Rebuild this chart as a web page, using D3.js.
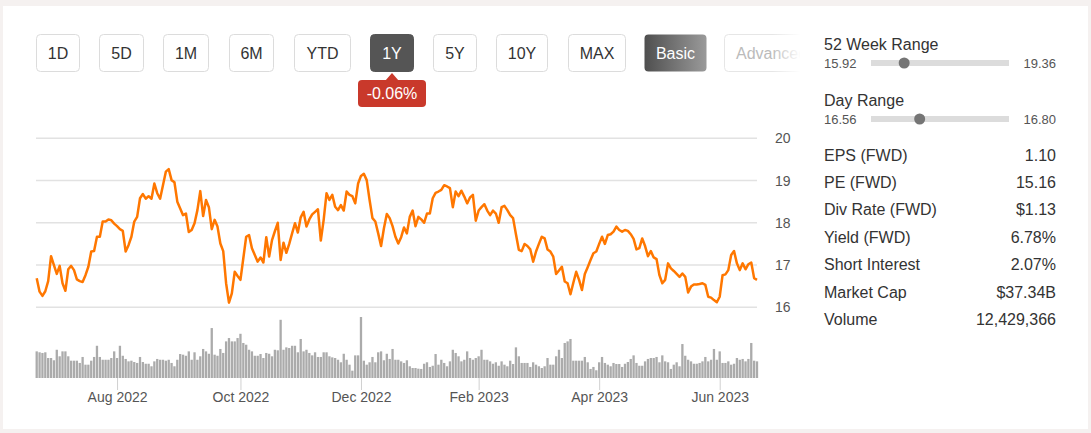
<!DOCTYPE html>
<html><head><meta charset="utf-8">
<script src="https://cdn.jsdelivr.net/npm/d3@7"></script>
<style>
html,body{margin:0;padding:0;background:#f5f1f0;}
svg{display:block;font-family:"Liberation Sans",Arial,sans-serif;}
</style></head>
<body>
<svg id="c" width="1091" height="433"></svg>
<script>
// ---------- data ----------
const rangeButtons = ["1D","5D","1M","6M","YTD","1Y","5Y","10Y","MAX"];
const activeRange = "1Y";
const modeButtons = ["Basic","Advanced"];
const changeLabel = "-0.06%";

const priceTicks = [16,17,18,19,20];
const monthTicks = ["Aug 2022","Oct 2022","Dec 2022","Feb 2023","Apr 2023","Jun 2023"];
const monthTickDay = [28,71,113,154,196,238]; // trading-session index of first session in month

// daily close, one per trading session (Jun 2022 - Jun 2023)
const price = [
16.69,16.37,16.27,16.38,16.62,17.21,17.00,16.79,16.98,16.57,
16.39,16.90,16.98,16.88,16.66,16.62,16.60,16.76,16.96,17.32,
17.33,17.67,17.67,18.03,18.03,18.08,18.06,17.98,17.92,17.85,
17.81,17.32,17.47,17.67,18.03,18.14,18.58,18.68,18.57,18.63,
18.57,18.93,18.70,18.57,18.89,19.21,19.27,19.01,18.96,18.50,
18.34,18.18,18.22,17.78,17.83,17.99,18.30,18.75,18.16,18.54,
18.37,17.85,18.07,17.91,17.51,17.33,16.57,16.11,16.33,16.84,
16.74,16.65,17.16,17.67,17.71,17.40,17.24,17.08,17.18,17.06,
17.66,17.20,17.59,17.80,18.00,17.12,17.53,17.29,17.50,17.75,
17.99,17.77,18.13,18.26,17.91,18.08,18.20,18.26,18.32,17.58,
18.07,18.70,18.54,18.66,18.38,18.30,18.42,18.29,18.74,18.66,
18.63,18.46,18.93,19.11,19.16,19.01,18.54,18.11,18.03,17.75,
17.45,17.87,18.21,18.11,17.92,17.67,17.51,17.66,17.89,17.75,
18.14,18.29,17.92,18.14,18.08,18.00,18.22,18.22,18.58,18.71,
18.74,18.78,18.89,18.86,18.82,18.37,18.74,18.63,18.76,18.62,
18.46,18.60,18.66,18.05,18.29,18.37,18.44,18.29,18.18,18.29,
18.22,18.00,18.37,18.40,18.30,18.18,18.11,17.73,17.36,17.33,
17.50,17.45,17.37,17.08,17.32,17.50,17.67,17.63,17.37,17.32,
17.20,16.79,16.87,16.96,16.61,16.57,16.31,16.58,16.84,16.65,
16.41,16.79,16.95,17.12,17.28,17.32,17.50,17.67,17.50,17.71,
17.73,17.79,17.91,17.83,17.79,17.83,17.81,17.73,17.62,17.37,
17.40,17.63,17.45,17.21,17.33,17.18,17.14,16.76,16.57,16.65,
17.04,16.92,16.86,16.79,16.72,16.80,16.72,16.35,16.49,16.54,
16.54,16.55,16.57,16.53,16.25,16.23,16.17,16.12,16.25,16.76,
16.78,16.88,17.24,17.33,17.04,16.88,17.04,16.90,17.02,17.06,
16.69,16.65
];

// daily volume, millions of shares
const volume = [
20.0,19.3,18.8,19.3,15.0,15.0,13.3,21.2,16.3,20.0,
20.0,16.3,13.0,13.0,13.0,11.3,15.8,10.0,10.0,13.0,
15.8,24.2,15.8,13.7,13.7,13.7,15.0,20.0,15.0,24.2,
16.7,14.3,12.5,13.0,12.0,11.3,15.8,12.0,10.7,10.7,
8.8,12.5,14.3,13.7,13.7,13.0,13.7,11.3,8.8,13.7,
18.0,17.5,16.7,20.0,13.7,19.3,13.7,16.3,21.8,20.0,
18.2,37.5,17.5,16.7,21.8,18.8,27.5,30.0,27.5,27.5,
30.0,33.2,26.3,25.0,21.2,20.0,16.7,16.7,18.0,15.0,
18.8,18.2,16.3,21.2,20.8,43.7,21.2,23.0,22.5,24.2,
24.2,19.3,29.3,20.0,21.2,18.8,17.0,19.3,15.8,15.8,
19.3,19.3,16.3,15.5,15.0,13.7,11.8,18.2,13.7,10.0,
5.5,17.0,17.0,45.8,13.0,10.0,11.8,15.8,11.8,19.3,
20.0,13.3,18.2,14.3,21.8,13.7,13.7,12.5,11.3,13.3,
8.8,7.5,7.5,7.0,6.8,10.7,11.8,8.3,9.2,18.0,
10.0,13.7,11.3,8.8,12.5,21.2,18.8,16.3,12.5,13.7,
20.0,15.0,13.7,15.0,16.3,21.2,13.7,13.7,12.5,10.7,
11.8,9.2,12.5,10.0,8.8,13.0,10.5,23.0,16.3,11.3,
11.3,11.3,8.3,11.8,10.0,8.8,7.5,8.8,15.0,10.0,
10.0,16.3,21.2,15.0,26.3,27.5,29.3,13.0,13.0,13.0,
13.0,15.8,11.8,6.8,8.3,5.8,11.8,15.8,11.3,10.0,
8.8,11.3,10.5,10.5,8.3,10.7,12.0,14.3,17.0,11.3,
9.2,9.2,12.5,14.3,15.0,15.0,15.8,11.8,17.0,12.5,
11.8,6.8,10.0,11.8,8.8,25.5,16.7,13.7,12.5,10.7,
10.7,11.3,12.5,15.8,12.5,13.7,21.8,13.7,20.0,11.3,
11.3,12.5,10.0,10.7,15.0,13.7,14.3,12.5,14.3,26.3,
13.0,12.5
];

const statLabels = ["EPS (FWD)","PE (FWD)","Div Rate (FWD)","Yield (FWD)","Short Interest","Market Cap","Volume"];
const statValues = ["1.10","15.16","$1.13","6.78%","2.07%","$37.34B","12,429,366"];
const weekRange = {label:"52 Week Range", low:15.92, high:19.36, current:16.65};
const dayRange  = {label:"Day Range", low:16.56, high:16.80, current:16.64};

// ---------- drawing ----------
const svg = d3.select("#c");
svg.append("rect").attr("x",3).attr("y",6).attr("width",1085).attr("height",423).attr("fill","#fff");

const defs = svg.append("defs");
const g1 = defs.append("linearGradient").attr("id","basicGrad");
g1.append("stop").attr("offset","0%").attr("stop-color","#4f4f4f");
g1.append("stop").attr("offset","100%").attr("stop-color","#9a9a9a");
const g2 = defs.append("linearGradient").attr("id","fadeGrad");
g2.append("stop").attr("offset","0%").attr("stop-color","#fff").attr("stop-opacity",0);
g2.append("stop").attr("offset","100%").attr("stop-color","#fff").attr("stop-opacity",1);
defs.append("clipPath").attr("id","btnClip").append("rect").attr("x",0).attr("y",0).attr("width",800).attr("height",433);

// range buttons
const btnX = [36,99,163,229,294,370,433,496,568];
const btnW = [44,45,46,45,57,44,44,52,58];
const bg = svg.append("g");
rangeButtons.forEach((b,i)=>{
  const act = b===activeRange;
  bg.append("rect").attr("x",btnX[i]+0.5).attr("y",34.5).attr("width",btnW[i]-1).attr("height",37)
    .attr("rx",4).attr("fill",act?"#555":"#fff").attr("stroke",act?"#555":"#dcdcdc");
  bg.append("text").attr("x",btnX[i]+btnW[i]/2).attr("y",53).attr("dy","0.35em")
    .attr("text-anchor","middle").attr("font-size",16).attr("fill",act?"#fff":"#333").text(b);
});
// mode buttons
bg.append("rect").attr("x",644.5).attr("y",34.5).attr("width",62).attr("height",37).attr("rx",4)
  .attr("fill","url(#basicGrad)").attr("stroke","none");
bg.append("text").attr("x",675.5).attr("y",53).attr("dy","0.35em").attr("text-anchor","middle")
  .attr("font-size",16).attr("fill","#fff").text(modeButtons[0]);
const adv = svg.append("g").attr("clip-path","url(#btnClip)");
adv.append("rect").attr("x",724.5).attr("y",34.5).attr("width",90).attr("height",37).attr("rx",4)
  .attr("fill","#fff").attr("stroke","#e6e6e6");
adv.append("text").attr("x",736).attr("y",53).attr("dy","0.35em").attr("font-size",16)
  .attr("fill","#bbb").text(modeButtons[1]);
adv.append("rect").attr("x",772).attr("y",30).attr("width",29).attr("height",45).attr("fill","url(#fadeGrad)");

// change badge
const bx = 392;
svg.append("path").attr("d",`M${bx-7},81 L${bx},73 L${bx+7},81 Z`).attr("fill","#c9392b");
svg.append("rect").attr("x",358).attr("y",80).attr("width",68).attr("height",27).attr("rx",4).attr("fill","#c9392b");
svg.append("text").attr("x",bx).attr("y",93.5).attr("dy","0.35em").attr("text-anchor","middle")
  .attr("font-size",16).attr("fill","#fff").text(changeLabel);

// scales
const x = d3.scaleLinear().domain([0, price.length-1]).range([36.7, 757]);
const y = d3.scaleLinear().domain([16,20]).range([307.3, 138.3]);
const yv = d3.scaleLinear().domain([0, d3.max(volume)]).range([378, 317]);

// grid
const grid = svg.append("g");
grid.selectAll("line").data(priceTicks).join("line")
  .attr("x1",36).attr("x2",757).attr("y1",d=>y(d)).attr("y2",d=>y(d))
  .attr("stroke","#e2e2e2").attr("stroke-width",1.6);

// y axis labels
const yAxis = svg.append("g").attr("transform","translate(772,0)")
  .call(d3.axisRight(y).tickValues(priceTicks).tickSize(0).tickPadding(3).tickFormat(d3.format("d")));
yAxis.select(".domain").remove();
yAxis.selectAll("text").attr("font-size",14).attr("fill","#555").attr("font-family","Liberation Sans, Arial, sans-serif");

// volume bars
svg.append("g").selectAll("rect").data(volume).join("rect")
  .attr("x",(d,i)=>x(i)-1.15).attr("width",2.3)
  .attr("y",d=>yv(d)).attr("height",d=>378-yv(d)).attr("fill","#ababab");

// x axis
const xAxis = svg.append("g").attr("transform","translate(0,378)")
  .call(d3.axisBottom(x).tickValues(monthTickDay).tickSize(12).tickPadding(2)
    .tickFormat((d,i)=>monthTicks[i]));
xAxis.select(".domain").remove();
xAxis.selectAll("line").attr("stroke","#d0d0d0");
xAxis.selectAll("text").attr("font-size",14).attr("fill","#555").attr("font-family","Liberation Sans, Arial, sans-serif");

// price line
svg.append("path").datum(price)
  .attr("d", d3.line().x((d,i)=>x(i)).y(d=>y(d)))
  .attr("fill","none").attr("stroke","#ff7700").attr("stroke-width",2.5)
  .attr("stroke-linejoin","round");

// right panel
const rp = svg.append("g");
function rangeBlock(r, top){
  rp.append("text").attr("x",824).attr("y",top).attr("dy","0.35em").attr("font-size",16).attr("fill","#333").text(r.label);
  const cy = top+19;
  rp.append("text").attr("x",824).attr("y",cy).attr("dy","0.35em").attr("font-size",13).attr("fill","#555").text(r.low.toFixed(2));
  rp.append("text").attr("x",1056).attr("y",cy).attr("dy","0.35em").attr("text-anchor","end").attr("font-size",13).attr("fill","#555").text(r.high.toFixed(2));
  const sx = d3.scaleLinear().domain([r.low,r.high]).range([877,1005]);
  rp.append("rect").attr("x",871).attr("y",cy-3).attr("width",138).attr("height",6).attr("fill","#dcdcdc");
  rp.append("circle").attr("cx",sx(r.current)).attr("cy",cy).attr("r",5.5).attr("fill","#757575");
}
rangeBlock(weekRange, 44);
rangeBlock(dayRange, 100);
statLabels.forEach((s,i)=>{
  const yy = 155 + i*27.4;
  rp.append("text").attr("x",824).attr("y",yy).attr("dy","0.35em").attr("font-size",16).attr("fill","#333").text(s);
  rp.append("text").attr("x",1056).attr("y",yy).attr("dy","0.35em").attr("text-anchor","end").attr("font-size",16).attr("fill","#333").text(statValues[i]);
});
</script>
</body></html>
